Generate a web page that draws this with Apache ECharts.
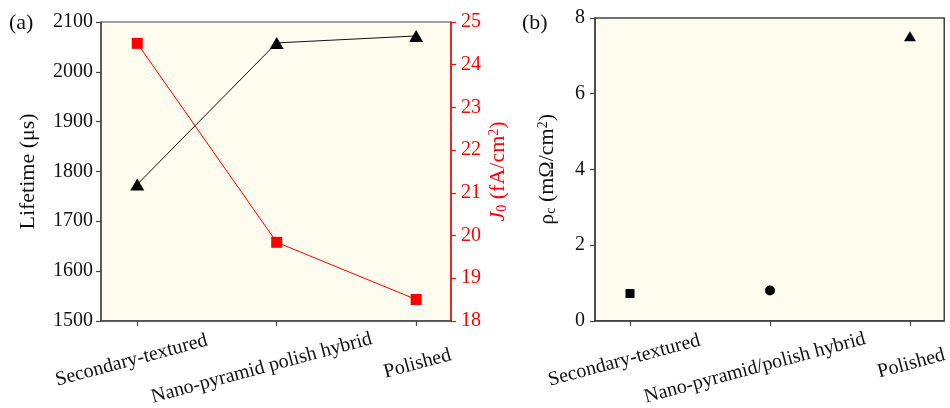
<!DOCTYPE html>
<html><head><meta charset="utf-8">
<script src="https://cdn.jsdelivr.net/npm/echarts@6/dist/echarts.min.js"></script>
<style>html,body{margin:0;padding:0;background:#fff}#c{width:950px;height:408px}</style>
</head><body><div id="c"></div>
<script>
const categoriesA = ['Secondary-textured', 'Nano-pyramid polish hybrid', 'Polished'];
const categoriesB = ['Secondary-textured', 'Nano-pyramid/polish hybrid', 'Polished'];
const lifetime = [1774, 2058, 2072];
const j0 = [24.5, 19.84, 18.5];
const rhoC = [0.72, 0.80, 7.52];
const rhoSymbols = ['rect', 'circle', 'triangle'];
const rhoSizes = [9, 10, [12, 10]];
const lifetimeTicks = [1500, 1600, 1700, 1800, 1900, 2000, 2100];
const j0Ticks = [18, 19, 20, 21, 22, 23, 24, 25];
const rhoTicks = [0, 2, 4, 6, 8];
const catPos = [0, 1, 2];

const FONT = '"Liberation Serif", "Times New Roman", serif';
const AXIS = '#444';
const labelRich = {
  a: {fontFamily: FONT, fontSize: 20, color: '#111', padding: [0, 12, 0, 0]},
  b: {fontFamily: FONT, fontSize: 20, color: '#111', padding: [10, 34, 0, 0]},
  c: {fontFamily: FONT, fontSize: 20, color: '#111', padding: [10, 0, 0, 0]}
};
function catAxis(gridIndex, names, min, max) {
  return {
    type: 'value', gridIndex, min, max,
    splitLine: {show: false},
    axisLine: {onZero: false, lineStyle: {color: AXIS, width: 1.5}},
    axisTick: {customValues: catPos, length: 5, lineStyle: {color: AXIS, width: 1.2}},
    axisLabel: {
      customValues: catPos, rotate: 15, align: 'center', verticalAlign: 'middle', margin: 38,
      fontFamily: FONT, fontSize: 20, color: '#111',
      formatter: v => { const i = Math.round(v); return '{' + 'abc'[i] + '|' + names[i] + '}'; },
      rich: labelRich
    }
  };
}
function plainFmt(v) { return String(v); }
const chart = echarts.init(document.getElementById('c'), null, {renderer: 'canvas'});
chart.setOption({
  backgroundColor: '#fff',
  animation: false,
  grid: [
    {left: 101, top: 22, width: 350, height: 300, show: true, backgroundColor: '#fefbef', borderColor: AXIS, borderWidth: 1},
    {left: 595, top: 18, width: 350, height: 305, show: true, backgroundColor: '#fefbef', borderColor: AXIS, borderWidth: 1.5}
  ],
  graphic: [
    {type: 'text', left: 9, top: 12, style: {text: '(a)', fontFamily: FONT, fontSize: 22, fill: '#111'}},
    {type: 'text', left: 522, top: 12, style: {text: '(b)', fontFamily: FONT, fontSize: 22, fill: '#111'}}
  ],
  xAxis: [catAxis(0, categoriesA, -0.26, 2.25), catAxis(1, categoriesB, -0.25, 2.245)],
  yAxis: [
    {
      type: 'value', gridIndex: 0, position: 'left', min: lifetimeTicks[0], max: lifetimeTicks[lifetimeTicks.length - 1], interval: 100,
      splitLine: {show: false},
      axisLine: {show: true, onZero: false, lineStyle: {color: AXIS, width: 1.5}},
      axisTick: {length: 5, lineStyle: {color: AXIS, width: 1.2}},
      axisLabel: {fontFamily: FONT, fontSize: 20, color: '#111', margin: 8, formatter: plainFmt},
      name: 'Lifetime (μs)', nameLocation: 'middle', nameGap: 62, nameRotate: 90,
      nameTextStyle: {fontFamily: FONT, fontSize: 22, color: '#111'}
    },
    {
      type: 'value', gridIndex: 0, position: 'right', min: j0Ticks[0], max: j0Ticks[j0Ticks.length - 1], interval: 1,
      splitLine: {show: false},
      axisLine: {show: true, onZero: false, lineStyle: {color: '#ff0000', width: 1.5}},
      axisTick: {length: 5, lineStyle: {color: '#ff0000', width: 1.2}},
      axisLabel: {fontFamily: FONT, fontSize: 20, color: '#ff0000', margin: 10, formatter: plainFmt},
      name: '{i|J}{sub|0}{n| (fA/cm}{sup|2}{n|)}', nameLocation: 'middle', nameGap: 36, nameRotate: 90,
      nameTextStyle: {
        fontFamily: FONT, fontSize: 22, color: '#ff0000',
        rich: {
          i: {fontFamily: FONT, fontSize: 22, fontStyle: 'italic', color: '#ff0000'},
          n: {fontFamily: FONT, fontSize: 22, color: '#ff0000'},
          sub: {fontFamily: FONT, fontSize: 14, color: '#ff0000', verticalAlign: 'bottom', padding: [8, 0, 0, 0]},
          sup: {fontFamily: FONT, fontSize: 14, color: '#ff0000', verticalAlign: 'top', padding: [0, 0, 8, 0]}
        }
      }
    },
    {
      type: 'value', gridIndex: 1, min: rhoTicks[0], max: rhoTicks[rhoTicks.length - 1], interval: 2,
      splitLine: {show: false},
      axisLine: {show: true, onZero: false, lineStyle: {color: AXIS, width: 1.5}},
      axisTick: {length: 5, lineStyle: {color: AXIS, width: 1.2}},
      axisLabel: {fontFamily: FONT, fontSize: 20, color: '#111', margin: 10, formatter: plainFmt},
      name: '{n|ρ}{sub|c}{n| (mΩ/cm}{sup|2}{n|)}', nameLocation: 'middle', nameGap: 37, nameRotate: 90,
      nameTextStyle: {
        fontFamily: FONT, fontSize: 22, color: '#111',
        rich: {
          n: {fontFamily: FONT, fontSize: 22, color: '#111'},
          sub: {fontFamily: FONT, fontSize: 14, color: '#111', verticalAlign: 'bottom', padding: [8, 0, 0, 0]},
          sup: {fontFamily: FONT, fontSize: 14, color: '#111', verticalAlign: 'top', padding: [0, 0, 8, 0]}
        }
      }
    }
  ],
  series: [
    {
      type: 'line', xAxisIndex: 0, yAxisIndex: 0,
      data: lifetime.map((v, i) => [catPos[i], v]),
      symbol: 'triangle', symbolSize: [14, 12],
      lineStyle: {color: '#111', width: 1}, itemStyle: {color: '#000', opacity: 1}
    },
    {
      type: 'line', xAxisIndex: 0, yAxisIndex: 1,
      data: j0.map((v, i) => [catPos[i], v]),
      symbol: 'rect', symbolSize: 11,
      lineStyle: {color: '#ff0000', width: 1}, itemStyle: {color: '#ff0000', opacity: 1}
    },
    {
      type: 'scatter', xAxisIndex: 1, yAxisIndex: 2,
      data: rhoC.map((v, i) => ({value: [catPos[i], v], symbol: rhoSymbols[i], symbolSize: rhoSizes[i]})),
      itemStyle: {color: '#000', opacity: 1}
    }
  ]
});
</script></body></html>
